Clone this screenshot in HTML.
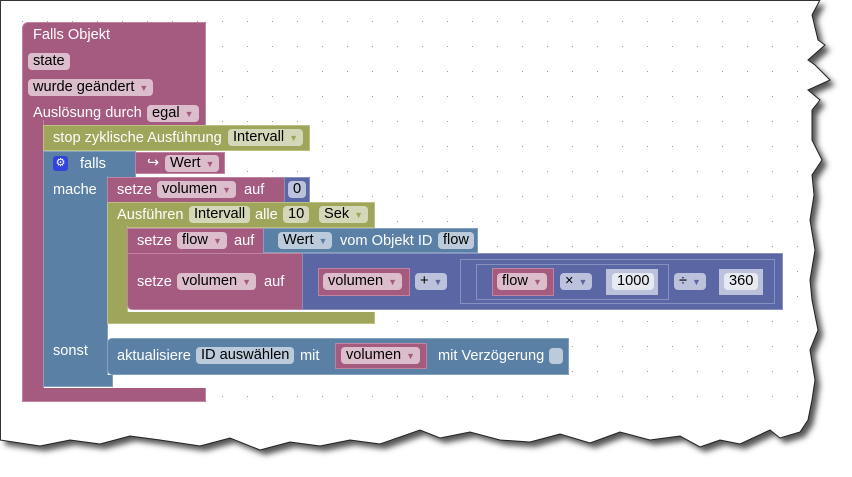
<!DOCTYPE html>
<html><head><meta charset="utf-8"><style>
*{margin:0;padding:0;box-sizing:border-box}
body{width:852px;height:477px;background:#fff;position:relative;overflow:hidden;font-family:"Liberation Sans",Arial,sans-serif;font-size:14.6px}
.b{position:absolute}
.pk{background:#a55b80;border:1px solid #c083a2}
.gr{background:#9fa55b;border:1px solid #bcc083}
.bl{background:#5b80a5;border:1px solid #83a0bd}
.in{background:#5b67a5;border:1px solid #8791c0}
.t{position:absolute;color:#fff;white-space:nowrap;line-height:16px}
.f{position:absolute;height:17px;border-radius:4px;color:#000;white-space:nowrap;line-height:17px;padding:0 5px}
.fp{background:#dbbdcc}
.fg{background:#d5d8b8}
.fb{background:#bccbdb}
.fi{background:#bdc2dc}
.fw{background:#e8eaf2}
.ar{font-size:9px;color:#7a6;margin-left:5px}
.fp .ar{color:#a55b80}.fb .ar{color:#5b80a5}.fi .ar{color:#5b67a5}.fg .ar{color:#9fa55b}
</style></head><body>
<svg class="b" style="left:0;top:0" width="852" height="477">
<defs><pattern id="d" x="22" y="21" width="25" height="25" patternUnits="userSpaceOnUse"><rect width="1" height="1" fill="#999"/></pattern>
<filter id="s"><feGaussianBlur stdDeviation="3"/></filter></defs>
<g id="g">
<polygon transform="translate(5,5)" filter="url(#s)" fill="#555" points="0,0 820,0 812,15 818,40 825,45 808,60 815,65 830,80 808,90 820,100 812,110 812,140 822,160 812,175 814,195 810,220 815,250 810,280 812,300 818,330 810,350 815,380 812,400 808,420 800,432 780,438 770,430 740,444 720,440 700,447 680,436 650,440 620,432 590,443 560,434 530,442 500,440 470,432 440,438 420,430 380,444 350,440 320,446 290,442 260,450 230,438 200,446 160,440 130,436 100,444 70,440 40,446 0,440"/>
<polygon fill="#fff" stroke="#222" stroke-width="1" points="0,0 820,0 812,15 818,40 825,45 808,60 815,65 830,80 808,90 820,100 812,110 812,140 822,160 812,175 814,195 810,220 815,250 810,280 812,300 818,330 810,350 815,380 812,400 808,420 800,432 780,438 770,430 740,444 720,440 700,447 680,436 650,440 620,432 590,443 560,434 530,442 500,440 470,432 440,438 420,430 380,444 350,440 320,446 290,442 260,450 230,438 200,446 160,440 130,436 100,444 70,440 40,446 0,440"/>
</g>
<rect x="0" y="0" width="800" height="420" fill="url(#d)"/>
<line x1="0" y1="0.5" x2="820" y2="0.5" stroke="#333"/><line x1="0.5" y1="0" x2="0.5" y2="440" stroke="#333"/>
</svg>

<div class="b pk" style="left:22px;top:22px;width:184px;height:104px;border-radius:6px 0 0 0"></div>
<div class="b pk" style="left:22px;top:120px;width:22px;height:275px;border-top:none"></div>
<div class="b pk" style="left:22px;top:388px;width:184px;height:14px;border-top:none"></div>
<div class="t" style="left:33px;top:27px">Falls Objekt</div>
<div class="f fp" style="left:28px;top:53px">state</div>
<div class="f fp" style="left:28px;top:79px">wurde geändert<span class="ar">▼</span></div>
<div class="t" style="left:33px;top:105px">Auslösung durch</div>
<div class="f fp" style="left:147px;top:105px">egal<span class="ar">▼</span></div>

<div class="b gr" style="left:43px;top:125px;width:267px;height:26px"></div>
<div class="t" style="left:53px;top:130px">stop zyklische Ausführung</div>
<div class="f fg" style="left:228px;top:129px">Intervall<span class="ar">▼</span></div>

<div class="b bl" style="left:43px;top:151px;width:93px;height:27px"></div>
<div class="b bl" style="left:43px;top:176px;width:65px;height:211px;border-top:none"></div>
<div class="b bl" style="left:43px;top:375px;width:70px;height:12px;border-top:none"></div>
<div class="b" style="left:53px;top:156px;width:15px;height:15px;background:#3344dd;border-radius:3px;color:#fff;font-size:11px;text-align:center;line-height:15px">⚙</div>
<div class="t" style="left:80px;top:156px">falls</div>
<div class="t" style="left:53px;top:182px">mache</div>
<div class="t" style="left:53px;top:343px">sonst</div>
<div class="b pk" style="left:135px;top:152px;width:90px;height:22px"></div>
<div class="t" style="left:147px;top:155px">↪</div>
<div class="f fp" style="left:165px;top:155px">Wert<span class="ar">▼</span></div>

<div class="b pk" style="left:107px;top:177px;width:180px;height:26px"></div>
<div class="t" style="left:117px;top:182px">setze</div>
<div class="f fp" style="left:157px;top:181px">volumen<span class="ar">▼</span></div>
<div class="t" style="left:244px;top:182px">auf</div>
<div class="b in" style="left:284px;top:177px;width:26px;height:26px"></div>
<div class="f fi" style="left:288px;top:181px">0</div>

<div class="b gr" style="left:107px;top:202px;width:268px;height:26px"></div>
<div class="b gr" style="left:107px;top:226px;width:21px;height:90px;border-top:none"></div>
<div class="b gr" style="left:107px;top:312px;width:268px;height:12px;border-top:none"></div>
<div class="t" style="left:117px;top:207px">Ausführen</div>
<div class="f fg" style="left:189px;top:206px">Intervall</div>
<div class="t" style="left:255px;top:207px">alle</div>
<div class="f fg" style="left:283px;top:206px">10</div>
<div class="f fg" style="left:319px;top:206px">Sek<span class="ar">▼</span></div>

<div class="b pk" style="left:127px;top:228px;width:138px;height:26px"></div>
<div class="t" style="left:137px;top:233px">setze</div>
<div class="f fp" style="left:177px;top:232px">flow<span class="ar">▼</span></div>
<div class="t" style="left:234px;top:233px">auf</div>
<div class="b bl" style="left:263px;top:228px;width:215px;height:25px"></div>
<div class="f fb" style="left:278px;top:232px">Wert<span class="ar">▼</span></div>
<div class="t" style="left:340px;top:233px">vom Objekt ID</div>
<div class="f fb" style="left:438px;top:232px">flow</div>

<div class="b pk" style="left:127px;top:253px;width:176px;height:57px;border-radius:0 0 0 5px"></div>
<div class="t" style="left:137px;top:274px">setze</div>
<div class="f fp" style="left:177px;top:273px">volumen<span class="ar">▼</span></div>
<div class="t" style="left:264px;top:274px">auf</div>
<div class="b in" style="left:302px;top:253px;width:481px;height:57px"></div>
<div class="b pk" style="left:318px;top:268px;width:92px;height:28px"></div>
<div class="f fp" style="left:323px;top:273px">volumen<span class="ar">▼</span></div>
<div class="f fi" style="left:415px;top:273px">+<span class="ar">▼</span></div>
<div class="b" style="left:460px;top:259px;width:315px;height:45px;border:1px solid #8791c0"></div>
<div class="b" style="left:476px;top:264px;width:193px;height:36px;border:1px solid #8791c0"></div>
<div class="b pk" style="left:492px;top:268px;width:62px;height:28px"></div>
<div class="f fp" style="left:497px;top:273px">flow<span class="ar">▼</span></div>
<div class="f fi" style="left:560px;top:273px">×<span class="ar">▼</span></div>
<div class="b" style="left:606px;top:269px;width:52px;height:26px;background:#bdc2dc"></div>
<div class="f fw" style="left:612px;top:273px">1000</div>
<div class="f fi" style="left:674px;top:273px">÷<span class="ar">▼</span></div>
<div class="b" style="left:719px;top:269px;width:44px;height:26px;background:#bdc2dc"></div>
<div class="f fw" style="left:724px;top:273px">360</div>

<div class="b bl" style="left:107px;top:338px;width:462px;height:37px;border-radius:5px 0 0 5px"></div>
<div class="t" style="left:117px;top:348px">aktualisiere</div>
<div class="f fb" style="left:196px;top:347px">ID auswählen</div>
<div class="t" style="left:300px;top:348px">mit</div>
<div class="b pk" style="left:335px;top:343px;width:92px;height:26px"></div>
<div class="f fp" style="left:341px;top:347px">volumen<span class="ar">▼</span></div>
<div class="t" style="left:438px;top:348px">mit Verzögerung</div>
<div class="b" style="left:549px;top:348px;width:14px;height:16px;background:#bccbdb;border-radius:4px"></div>
</body></html>
